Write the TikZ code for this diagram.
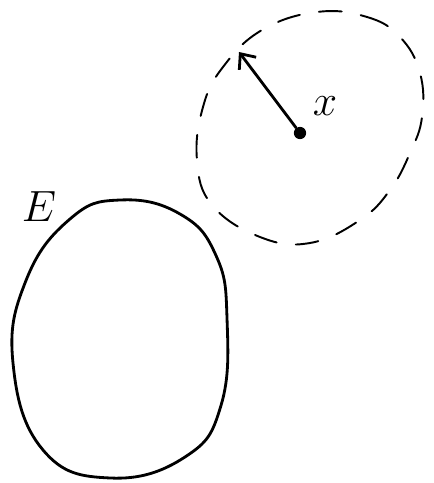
\documentclass[tikz,border=0pt]{standalone}
\usetikzlibrary{arrows.meta}

\begin{document}
\begin{tikzpicture}[x=1cm, y=1cm, line cap=round, line join=round]

    \useasboundingbox (0,0) rectangle (8.68,9.66);

    % the set E
    \draw[line width=1.6pt] plot[smooth cycle, tension=0.75] coordinates {
        (2.40,5.66) (3.60,5.38) (4.32,4.55) (4.54,3.30) (4.42,1.55)
        (3.70,0.52) (2.20,0.10) (0.86,0.66) (0.26,2.40) (0.52,4.05)
        (1.40,5.28)};
    \node (lblE) at (0.78,5.52) {\fontsize{36}{40}\selectfont$E$};

    % the ball round x
    \draw[line width=1.1pt, dash pattern=on 13pt off 11pt] plot[smooth cycle, tension=0.7] coordinates {
        (6.34,9.42) (7.34,9.32) (8.00,8.92) (8.40,8.20) (8.44,7.32)
        (8.20,6.60) (7.80,5.86) (7.20,5.26) (6.20,4.80) (5.20,4.92)
        (4.24,5.56) (3.94,6.46) (4.06,7.52) (4.46,8.32) (5.24,9.06)};

    \node[circle, fill, inner sep=0pt, minimum size=7pt] (ptx) at (6.00,7.00) {};
    \coordinate (rim) at (4.78,8.62);
    \draw[line width=1.6pt, -{Straight Barb[length=7pt, width=12pt, line width=1.6pt]}] (ptx) -- (rim);
    \node (lblx) at (6.50,7.54) {\fontsize{34}{38}\selectfont$x$};

\end{tikzpicture}
\end{document}
